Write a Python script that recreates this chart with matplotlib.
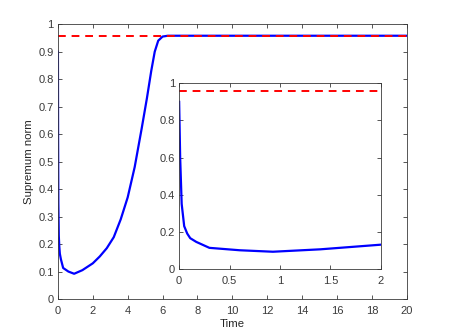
import matplotlib
matplotlib.use('Agg')
import matplotlib.pyplot as plt
from matplotlib.ticker import FuncFormatter

# data
t = [0, 0.01, 0.025, 0.05, 0.08, 0.11, 0.17, 0.3, 0.6, 0.93, 1.4, 2.0, 2.4,
     2.8, 3.2, 3.6, 4.0, 4.4, 4.8, 5.1, 5.35, 5.55, 5.75, 6.0, 6.3, 20]
sup_norm = [0.9, 0.6, 0.35, 0.23, 0.19, 0.165, 0.145, 0.113, 0.1, 0.092, 0.105,
            0.13, 0.155, 0.185, 0.225, 0.29, 0.37, 0.48, 0.62, 0.73, 0.83,
            0.9, 0.94, 0.955, 0.958, 0.958]
level = 0.958

plt.rcParams['font.family'] = ['Liberation Sans', 'DejaVu Sans']
fmt = FuncFormatter(lambda v, p: '%g' % round(v, 3))
edge = '#3a3a3a'


def style(ax, size):
    ax.tick_params(direction='in', top=True, right=True, length=3, width=0.6,
                   labelsize=size, colors=edge)
    ax.tick_params(axis='x', pad=5)
    ax.tick_params(axis='y', pad=3)
    for s in ax.spines.values():
        s.set_color(edge)
        s.set_linewidth(0.6)
    ax.xaxis.set_major_formatter(fmt)
    ax.yaxis.set_major_formatter(fmt)


fig = plt.figure(figsize=(4.49, 3.36), dpi=100)
ax = fig.add_axes([0.129, 0.110, 0.777, 0.818])
ax.plot(t, sup_norm, color='#0000ff', lw=1.6)
ax.axhline(level, color='#ff0000', ls=(0, (4, 3)), lw=1.4)
ax.set_xlim(0, 20)
ax.set_ylim(0, 1)
ax.set_xticks(range(0, 21, 2))
ax.set_yticks([i / 10 for i in range(11)])
ax.set_xlabel('Time', fontsize=8.2, color='#262626', labelpad=2)
ax.set_ylabel('Supremum norm', fontsize=8.2, color='#262626', labelpad=3)
style(ax, 8)

ins = fig.add_axes([0.399, 0.200, 0.449, 0.552])
ins.plot(t, sup_norm, color='#0000ff', lw=1.6)
ins.axhline(level, color='#ff0000', ls=(0, (4, 3)), lw=1.4)
ins.set_xlim(0, 2)
ins.set_ylim(0, 1)
ins.set_xticks([0, 0.5, 1, 1.5, 2])
ins.set_yticks([0, 0.2, 0.4, 0.6, 0.8, 1])
style(ins, 8)

fig.savefig('out.png', dpi=100)
